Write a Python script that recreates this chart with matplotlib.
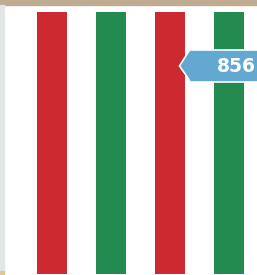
import matplotlib
matplotlib.use("Agg")
import matplotlib.pyplot as plt
from matplotlib.patches import Rectangle, Polygon
from matplotlib.transforms import Affine2D

categories = ["A", "B", "C", "D"]
values = [856, 856, 856, 856]
bar_colors = ["#cc2a30", "#238b4f", "#cc2a30", "#238b4f"]
tooltip_value = 856

W, H = 257, 275
fig = plt.figure(figsize=(W / 100, H / 100), dpi=100)
fig.patch.set_facecolor("white")

ax = fig.add_axes([0, 0, 1, 1])
x = list(range(len(categories)))
ax.bar(x, values, width=30 / 59, color=bar_colors, edgecolor="none")
ax.set_xlim(-52 / 59, 3 + (W - 229) / 59)
vmax = max(values)
ppu = 262 / vmax
ax.set_ylim(-1 / ppu, vmax + 12 / ppu)
ax.axis("off")


def tr():
    # pixel coordinates, y measured from the top
    return Affine2D().scale(1 / W, -1 / H).translate(0, 1) + fig.transFigure


fig.patches.append(Rectangle((0, 0), W, 5, transform=tr(), color="#bfab90", zorder=5))
fig.patches.append(Rectangle((0, 5), 3.5, 266, transform=tr(), color="#e3e6e6", zorder=5))
fig.patches.append(Rectangle((0, 271), 3.5, 4, transform=tr(), color="#dcc79a", zorder=5))

tip = Polygon([(179.5, 66), (189.5, 50), (258, 50), (258, 82), (190, 82), (188, 78)],
              closed=True, transform=tr(), facecolor="#62a8d0", edgecolor="white",
              linewidth=1.2, zorder=6)
fig.patches.append(tip)
fig.text(236.5 / W, 1 - 66.5 / H, f"{tooltip_value}", color="white", fontsize=13.5,
         fontweight="bold", ha="center", va="center", zorder=7)

fig.savefig("out.png", dpi=100)
